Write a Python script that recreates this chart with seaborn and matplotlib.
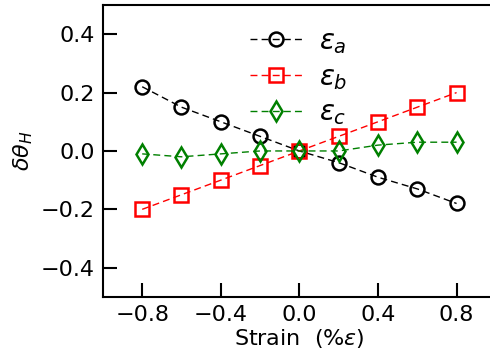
import matplotlib
matplotlib.use("Agg")
from matplotlib import pyplot as plt
import pandas as pd
import seaborn as sns

strain = [-0.8, -0.6, -0.4, -0.2, 0.0, 0.2, 0.4, 0.6, 0.8]
eps_a = [0.22, 0.15, 0.10, 0.05, 0.0, -0.04, -0.09, -0.13, -0.18]
eps_b = [-0.20, -0.15, -0.10, -0.05, 0.0, 0.05, 0.10, 0.15, 0.20]
eps_c = [-0.01, -0.02, -0.01, 0.0, 0.0, 0.0, 0.02, 0.03, 0.03]

labels = [r'$\varepsilon_a$', r'$\varepsilon_b$', r'$\varepsilon_c$']
colors = ['black', 'red', 'green']
markers = ['o', 's', 'd']

sns.set_style("ticks")
plt.rcParams['font.family'] = ['DejaVu Sans']
plt.rcParams['mathtext.fontset'] = 'dejavusans'
plt.rcParams['text.color'] = 'black'
plt.rcParams['axes.labelcolor'] = 'black'
plt.rcParams['xtick.color'] = 'black'
plt.rcParams['ytick.color'] = 'black'
plt.rcParams['axes.edgecolor'] = 'black'

fig = plt.figure(figsize=(4.9, 3.59), dpi=100)
ax = fig.add_axes([0.210, 0.173, 0.802, 0.813])

for vals, lab, c, m in zip([eps_a, eps_b, eps_c], labels, colors, markers):
    df = pd.DataFrame({'strain': strain, 'val': vals})
    sns.lineplot(data=df, x='strain', y='val', ax=ax, color=c, marker=m,
                 linestyle='--', linewidth=1, markersize=10, mfc='none',
                 mec=c, mew=1.8, label=lab, dashes=False)
for line in ax.get_lines():
    line.set_dashes([5, 3])

ax.set_xlim(-1.0, 1.0)
ax.set_ylim(-0.5, 0.5)
ax.set_xticks([-0.8, -0.4, 0.0, 0.4, 0.8])
ax.set_yticks([-0.4, -0.2, 0.0, 0.2, 0.4])
ax.tick_params(direction='in', length=10, width=1.5, labelsize=16, pad=6)
for s in ax.spines.values():
    s.set_linewidth(1.5)

ax.set_xlabel(r'Strain  (%$\varepsilon$)', fontsize=16, labelpad=1)
ax.set_ylabel(r'$\delta\theta_H$', fontsize=16, labelpad=4)

ax.legend(loc='upper left', bbox_to_anchor=(0.31, 1.01), frameon=False,
          fontsize=20, labelspacing=0.25, handlelength=1.9, handletextpad=0.6)

fig.savefig("out.png", dpi=100)
